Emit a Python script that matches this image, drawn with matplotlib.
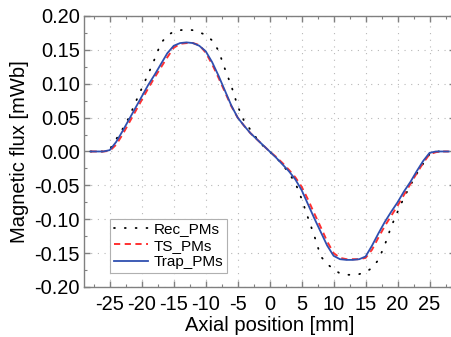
import matplotlib
matplotlib.use("Agg")
import matplotlib.pyplot as plt
from matplotlib.ticker import MultipleLocator, FormatStrFormatter

# Axial position [mm]
position = list(range(-28, 29))

# Flux linkage per magnet shape [mWb]
rec_pms = [0.000, 0.000, 0.000, 0.003, 0.018, 0.033, 0.050, 0.072, 0.093, 0.114,
           0.136, 0.160, 0.171, 0.177, 0.179, 0.180, 0.179, 0.176, 0.172, 0.164,
           0.149, 0.122, 0.097, 0.067, 0.045, 0.032, 0.019, 0.008, 0.000,
           -0.009, -0.019, -0.032, -0.046, -0.070, -0.098, -0.125, -0.155, -0.166,
           -0.174, -0.180, -0.182, -0.182, -0.181, -0.178, -0.172, -0.160, -0.138,
           -0.111, -0.089, -0.068, -0.050, -0.033, -0.018, -0.004, 0.000, 0.000, 0.000]

ts_pms = [0.000, 0.000, 0.000, 0.001, 0.010, 0.025, 0.042, 0.059, 0.076, 0.093,
          0.109, 0.124, 0.139, 0.153, 0.159, 0.160, 0.160, 0.157, 0.146, 0.129,
          0.109, 0.088, 0.067, 0.050, 0.038, 0.027, 0.018, 0.009, 0.000,
          -0.008, -0.017, -0.027, -0.038, -0.052, -0.071, -0.092, -0.112, -0.133,
          -0.150, -0.157, -0.159, -0.159, -0.159, -0.157, -0.145, -0.127, -0.110,
          -0.095, -0.080, -0.064, -0.048, -0.032, -0.017, -0.004, -0.001, 0.000, 0.000]

trap_pms = [0.000, 0.000, 0.000, 0.002, 0.014, 0.030, 0.047, 0.064, 0.081, 0.098,
            0.113, 0.129, 0.145, 0.156, 0.160, 0.161, 0.160, 0.156, 0.148, 0.132,
            0.112, 0.090, 0.068, 0.050, 0.038, 0.027, 0.018, 0.009, 0.000,
            -0.009, -0.019, -0.029, -0.041, -0.057, -0.078, -0.099, -0.119, -0.139,
            -0.154, -0.159, -0.160, -0.160, -0.159, -0.155, -0.139, -0.121, -0.104,
            -0.089, -0.075, -0.059, -0.045, -0.029, -0.014, -0.002, 0.000, 0.000, 0.000]

plt.rcParams['font.family'] = ['Liberation Sans', 'DejaVu Sans']
plt.rcParams['axes.unicode_minus'] = False

fig = plt.figure(figsize=(4.51, 3.37), dpi=100)
ax = fig.add_axes([0.1866, 0.1484, 0.8226, 0.8042])

ax.plot(position, rec_pms, color='black', linestyle=(0, (0.5, 5.5)),
        linewidth=1.3, dash_capstyle='round', label='Rec_PMs', zorder=3)
ax.plot(position, ts_pms, color='#ff3030', linestyle=(0, (3.2, 2.3)),
        linewidth=1.4, label='TS_PMs', zorder=4)
ax.plot(position, trap_pms, color='#2f4fb0', linestyle='-',
        linewidth=1.3, label='Trap_PMs', zorder=5)

ax.set_xlim(-29, 29)
ax.set_ylim(-0.20, 0.20)
ax.xaxis.set_major_locator(MultipleLocator(5))
ax.xaxis.set_minor_locator(MultipleLocator(2.5))
ax.yaxis.set_major_locator(MultipleLocator(0.05))
ax.yaxis.set_minor_locator(MultipleLocator(0.025))
ax.yaxis.set_major_formatter(FormatStrFormatter('%.2f'))

ax.grid(True, which='major', color='#b8b8b8', linestyle=(0, (1, 5)), linewidth=0.8)

for sp in ax.spines.values():
    sp.set_color('#808080')
    sp.set_linewidth(1.0)

ax.tick_params(which='both', direction='in', top=True, right=True,
               color='#808080', labelsize=14.4)
ax.tick_params(axis='y', pad=3)
ax.tick_params(axis='x', pad=6)
ax.tick_params(which='major', length=4, width=1.0)
ax.tick_params(which='minor', length=2.5, width=0.8)

ax.set_xlabel('Axial position [mm]', fontsize=14.5, labelpad=1)
ax.set_ylabel('Magnetic flux [mWb]', fontsize=14.5, labelpad=4)

leg = ax.legend(loc='lower left', bbox_to_anchor=(0.07, 0.052), borderaxespad=0,
                fontsize=11, handlelength=2.2, handletextpad=0.4,
                labelspacing=0.15, borderpad=0.25, fancybox=False,
                framealpha=1, edgecolor='#b0b0b0')
leg.get_frame().set_linewidth(0.8)

fig.savefig('out.png', dpi=100)
